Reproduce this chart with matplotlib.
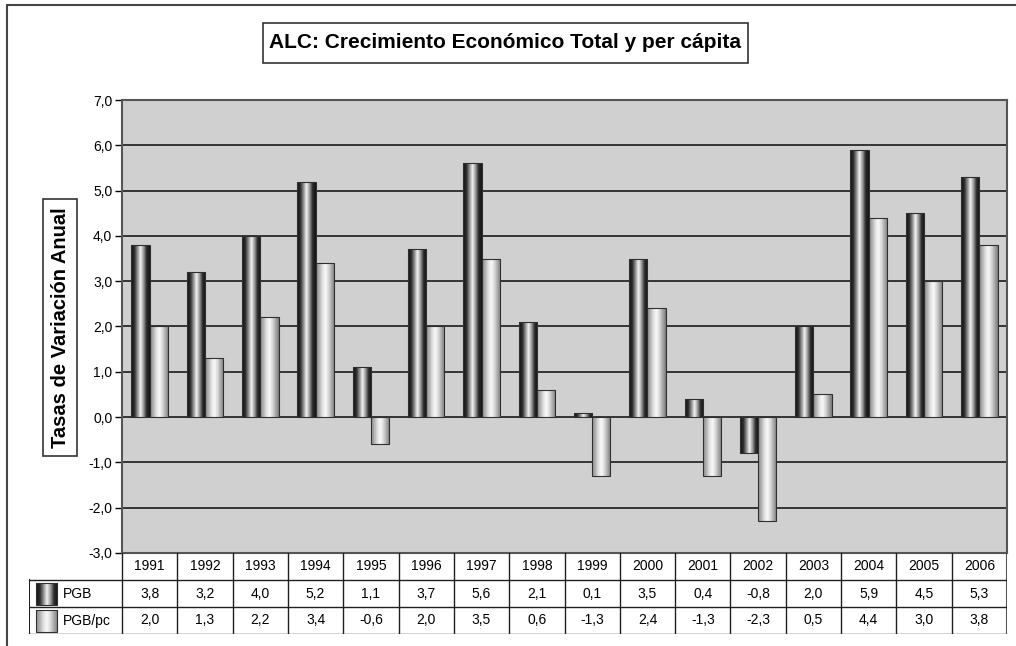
import numpy as np
import matplotlib.pyplot as plt
from matplotlib.patches import Rectangle
from matplotlib.colors import LinearSegmentedColormap

plt.rcParams['font.family'] = ['Liberation Sans', 'DejaVu Sans']

years = ['1991', '1992', '1993', '1994', '1995', '1996', '1997', '1998',
         '1999', '2000', '2001', '2002', '2003', '2004', '2005', '2006']
pgb = [3.8, 3.2, 4.0, 5.2, 1.1, 3.7, 5.6, 2.1, 0.1, 3.5, 0.4, -0.8, 2.0, 5.9, 4.5, 5.3]
pgb_pc = [2.0, 1.3, 2.2, 3.4, -0.6, 2.0, 3.5, 0.6, -1.3, 2.4, -1.3, -2.3, 0.5, 4.4, 3.0, 3.8]
series_names = ['PGB', 'PGB/pc']
yticks = np.arange(-3, 8, 1)

W, H = 1016, 646
fig = plt.figure(figsize=(W / 100, H / 100), dpi=100)
fig.patch.set_facecolor('white')


def px(x0, y0, x1, y1):
    # pixel box (top-left origin) -> figure fraction rect
    return [x0 / W, 1 - y1 / H, (x1 - x0) / W, (y1 - y0) / H]


# cylinder-like shading for the two series
cm_dark = LinearSegmentedColormap.from_list(
    'dark', ['#151515', '#2a2a2a', '#8a8a8a', '#f4f4f4', '#9a9a9a', '#2a2a2a', '#151515'])
cm_light = LinearSegmentedColormap.from_list(
    'light', ['#8c8c8c', '#b0b0b0', '#e0e0e0', '#fafafa', '#d8d8d8', '#a8a8a8', '#7c7c7c'])
grad = np.linspace(0, 1, 64).reshape(1, -1)

ax = fig.add_axes(px(122, 100, 1007, 553))
ax.set_facecolor('#d0d0d0')
x = np.arange(len(years))
bw = 0.33


def shaded_bars(xpos, vals, cmap):
    bars = ax.bar(xpos, vals, bw, color='none', edgecolor='#303030', linewidth=0.8, zorder=3)
    for b in bars:
        bx, by, bwid, bh = b.get_x(), b.get_y(), b.get_width(), b.get_height()
        im = ax.imshow(grad, cmap=cmap, aspect='auto', zorder=2,
                       extent=[bx, bx + bwid, min(by, by + bh), max(by, by + bh)])
        im.set_clip_path(b)
    return bars


shaded_bars(x - bw / 2, pgb, cm_dark)
shaded_bars(x + bw / 2, pgb_pc, cm_light)

ax.set_xlim(-0.5, len(years) - 0.5)
ax.set_ylim(-3, 7)
ax.set_yticks(yticks)
ax.set_yticklabels([f'{v:.1f}'.replace('.', ',') for v in yticks], fontsize=10)
ax.set_xticks([])
ax.grid(axis='y', color='#1a1a1a', linewidth=1.2, zorder=1)
ax.set_axisbelow(True)
ax.tick_params(axis='y', length=5, width=1, direction='out', pad=2)
for s in ax.spines.values():
    s.set_color('#555555')
    s.set_linewidth(1.5)

# data table under the plot
tab = fig.add_axes(px(29, 553, 1007, 634))
leg_w = (122 - 29) / ((1007 - 122) / len(years))
tab.axis('off')
lc = '#202020'
for i in range(len(years) + 1):
    tab.plot([i - 0.5, i - 0.5], [0, 3], color=lc, lw=1)
tab.plot([-0.5 - leg_w] * 2, [1, 3], color=lc, lw=1.5)
tab.plot([len(years) - 0.5] * 2, [0, 3], color='#555555', lw=1.5)
for r in (1, 2, 3):
    tab.plot([-0.5 - leg_w, len(years) - 0.5], [r, r], color=lc, lw=1)

for i, yr in enumerate(years):
    tab.text(i, 0.5, yr, ha='center', va='center', fontsize=10)
for r, (vals, name, cmap) in enumerate(zip([pgb, pgb_pc], series_names, [cm_dark, cm_light]), start=1):
    for i, v in enumerate(vals):
        tab.text(i, r + 0.5, f'{v:.1f}'.replace('.', ','), ha='center', va='center', fontsize=10)
    sx = -0.5 - leg_w + 0.13
    tab.imshow(grad, cmap=cmap, aspect='auto', extent=[sx, sx + 0.38, r + 0.93, r + 0.12], zorder=2)
    tab.add_patch(Rectangle((sx, r + 0.12), 0.38, 0.81, fill=False, ec='#303030', lw=0.8, zorder=3))
    tab.text(-0.5 - leg_w + 0.62, r + 0.5, name, ha='left', va='center', fontsize=10)
tab.set_xlim(-0.5 - leg_w, len(years) - 0.5)
tab.set_ylim(3, 0)

# title and axis label boxes
fig.add_artist(Rectangle((263 / W, 1 - 63 / H), 485 / W, 40 / H, transform=fig.transFigure,
                         fc='white', ec='#333333', lw=1.2))
fig.text(505 / W, 1 - 43 / H, 'ALC: Crecimiento Económico Total y per cápita',
         ha='center', va='center', fontsize=15, fontweight='bold')
fig.add_artist(Rectangle((43 / W, 1 - 456 / H), 34 / W, 257 / H, transform=fig.transFigure,
                         fc='white', ec='#333333', lw=1.2))
fig.text(60 / W, 1 - 328 / H, 'Tasas de Variación Anual', rotation=90,
         ha='center', va='center', fontsize=14.5, fontweight='bold')

# outer chart frame
fig.add_artist(Rectangle((7 / W, -0.1), 1.2, 1 - 5 / H + 0.1, transform=fig.transFigure,
                         fill=False, ec='#444444', lw=1.5))

fig.savefig('out.png', dpi=100)
